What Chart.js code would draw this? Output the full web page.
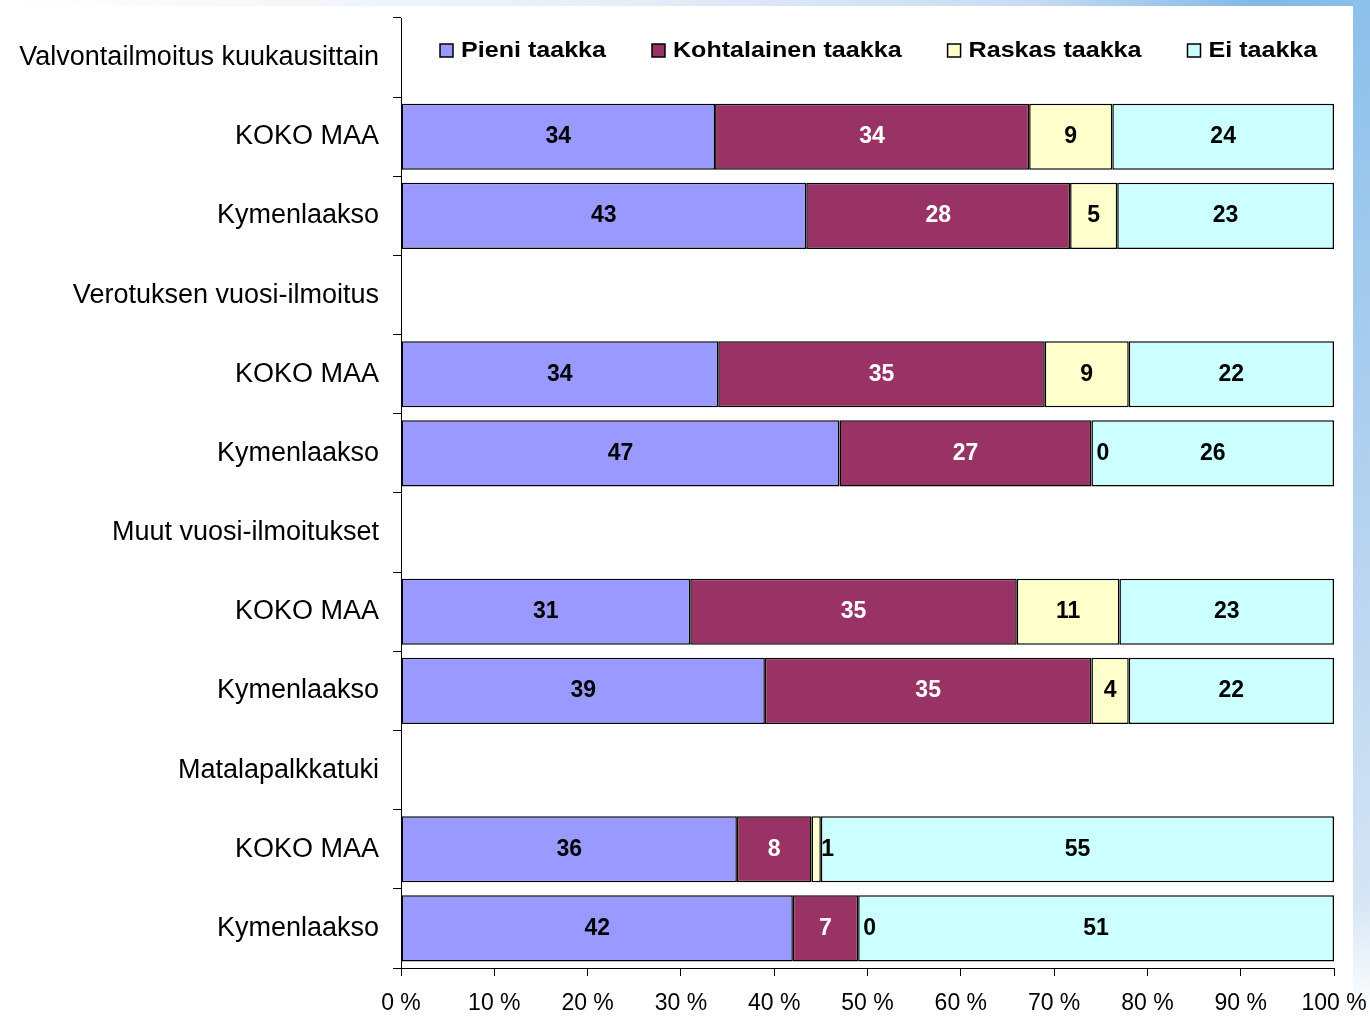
<!DOCTYPE html>
<html>
<head>
<meta charset="utf-8">
<script src="https://cdn.jsdelivr.net/npm/chart.js@4/dist/chart.umd.min.js"></script>
<style>
  body { margin: 0; background: #fff; }
  canvas { display: block; }
</style>
</head>
<body>
<canvas id="taakka-chart" width="1370" height="1016"></canvas>
<script>
const categories = ['Valvontailmoitus kuukausittain', 'KOKO MAA', 'Kymenlaakso',
  'Verotuksen vuosi-ilmoitus', 'KOKO MAA', 'Kymenlaakso',
  'Muut vuosi-ilmoitukset', 'KOKO MAA', 'Kymenlaakso',
  'Matalapalkkatuki', 'KOKO MAA', 'Kymenlaakso'];
const seriesNames = ['Pieni taakka', 'Kohtalainen taakka', 'Raskas taakka', 'Ei taakka'];
const pieni       = [null, 34, 43, null, 34, 47, null, 31, 39, null, 36, 42];
const kohtalainen = [null, 34, 28, null, 35, 27, null, 35, 35, null, 8, 7];
const raskas      = [null, 9, 5, null, 9, 0, null, 11, 4, null, 1, 0];
const eiTaakka    = [null, 24, 23, null, 22, 26, null, 23, 22, null, 55, 51];
const xTicks = [0, 10, 20, 30, 40, 50, 60, 70, 80, 90, 100];

const raw = [pieni, kohtalainen, raskas, eiTaakka];
const colors = ['#9999ff', '#993366', '#ffffcc', '#ccffff'];
const labelColors = ['#000', '#fff', '#000', '#000'];

// 100 % stacked: every row scaled to its own total
const totals = categories.map((c, i) => raw.reduce((s, arr) => s + (arr[i] || 0), 0));
const percent = arr => arr.map((v, i) => v === null ? null : v / totals[i] * 100);

const background = {
  id: 'background',
  beforeDraw(chart) {
    const ctx = chart.ctx;
    ctx.save();
    ctx.fillStyle = '#fff';
    ctx.fillRect(0, 0, chart.width, chart.height);
    let g = ctx.createLinearGradient(0, 0, chart.width, 0);
    g.addColorStop(0, '#ffffff');
    g.addColorStop(0.45, '#e6eef8');
    g.addColorStop(0.75, '#c9dcf2');
    g.addColorStop(0.92, '#80b8e6');
    g.addColorStop(1, '#8cc0ea');
    ctx.fillStyle = g;
    ctx.fillRect(0, 0, chart.width, 6);
    g = ctx.createLinearGradient(0, 0, 0, chart.height);
    g.addColorStop(0, '#8cc0ea');
    g.addColorStop(0.5, '#b4d2ef');
    g.addColorStop(0.88, '#d4e4f4');
    g.addColorStop(1, '#ffffff');
    ctx.fillStyle = g;
    ctx.fillRect(1353, 0, chart.width - 1353, chart.height);
    ctx.restore();
  }
};

const legendInside = {
  id: 'legendInside',
  afterDraw(chart) {
    const ctx = chart.ctx;
    ctx.save();
    ctx.font = 'bold 22px "Liberation Sans", Arial, sans-serif';
    ctx.textBaseline = 'middle';
    let x = 440;
    const y = 51;
    const stretch = 1.14;
    chart.data.datasets.forEach(ds => {
      ctx.fillStyle = ds.backgroundColor;
      ctx.fillRect(x, y - 7, 13, 13);
      ctx.strokeStyle = '#000';
      ctx.lineWidth = 1.5;
      ctx.strokeRect(x, y - 7, 13, 13);
      const w = ctx.measureText(ds.label).width * stretch;
      ctx.save();
      ctx.translate(x + 21, y);
      ctx.scale(stretch, 1);
      ctx.fillStyle = '#000';
      ctx.fillText(ds.label, 0, 0);
      ctx.restore();
      x += 21 + w + 46;
    });
    ctx.restore();
  }
};

const valueLabels = {
  id: 'valueLabels',
  afterDatasetsDraw(chart) {
    const ctx = chart.ctx;
    ctx.save();
    ctx.font = 'bold 23px "Liberation Sans", Arial, sans-serif';
    ctx.textBaseline = 'middle';
    chart.data.datasets.forEach((ds, d) => {
      const meta = chart.getDatasetMeta(d);
      meta.data.forEach((bar, i) => {
        const v = raw[d][i];
        if (v === null) return;
        const text = String(v);
        const tw = ctx.measureText(text).width;
        const left = Math.min(bar.x, bar.base);
        const right = Math.max(bar.x, bar.base);
        const mid = (left + right) / 2;
        if (right - left < tw + 4) {
          ctx.fillStyle = '#000';
          ctx.textAlign = 'left';
          ctx.fillText(text, mid + 5, bar.y);
        } else {
          ctx.fillStyle = labelColors[d];
          ctx.textAlign = 'center';
          ctx.fillText(text, mid, bar.y);
        }
      });
    });
    ctx.restore();
  }
};

const ctxEl = document.getElementById('taakka-chart');
new Chart(ctxEl, {
  type: 'bar',
  data: {
    labels: categories,
    datasets: raw.map((arr, d) => ({
      label: seriesNames[d],
      data: percent(arr),
      backgroundColor: colors[d],
      borderColor: '#000',
      borderWidth: 1.5,
      borderSkipped: false,
      categoryPercentage: 1,
      barPercentage: 0.835
    }))
  },
  options: {
    indexAxis: 'y',
    responsive: false,
    animation: false,
    layout: { padding: { top: 18, right: 36, left: 0, bottom: 0 } },
    scales: {
      x: {
        stacked: true,
        min: 0,
        max: 100,
        afterBuildTicks: scale => { scale.ticks = xTicks.map(v => ({ value: v })); },
        afterFit: scale => {
          scale.height = 48;
          scale.paddingLeft = 0;
          scale.paddingRight = 0;
        },
        ticks: {
          color: '#000',
          padding: 14,
          maxRotation: 0,
          font: { family: '"Liberation Sans", Arial, sans-serif', size: 23 },
          callback: v => v + ' %'
        },
        grid: { drawOnChartArea: false, tickLength: 8, color: '#000', lineWidth: 1 },
        border: { color: '#000', width: 1 }
      },
      y: {
        stacked: true,
        afterFit: scale => {
          scale.width = 401;
          scale.paddingTop = 0;
          scale.paddingBottom = 0;
        },
        ticks: {
          color: '#000',
          padding: 14,
          autoSkip: false,
          font: { family: '"Liberation Sans", Arial, sans-serif', size: 27 }
        },
        grid: { drawOnChartArea: false, offset: true, tickLength: 8, color: '#000', lineWidth: 1 },
        border: { color: '#000', width: 1 }
      }
    },
    plugins: {
      legend: { display: false },
      tooltip: { enabled: false }
    }
  },
  plugins: [background, legendInside, valueLabels]
});
</script>
</body>
</html>
